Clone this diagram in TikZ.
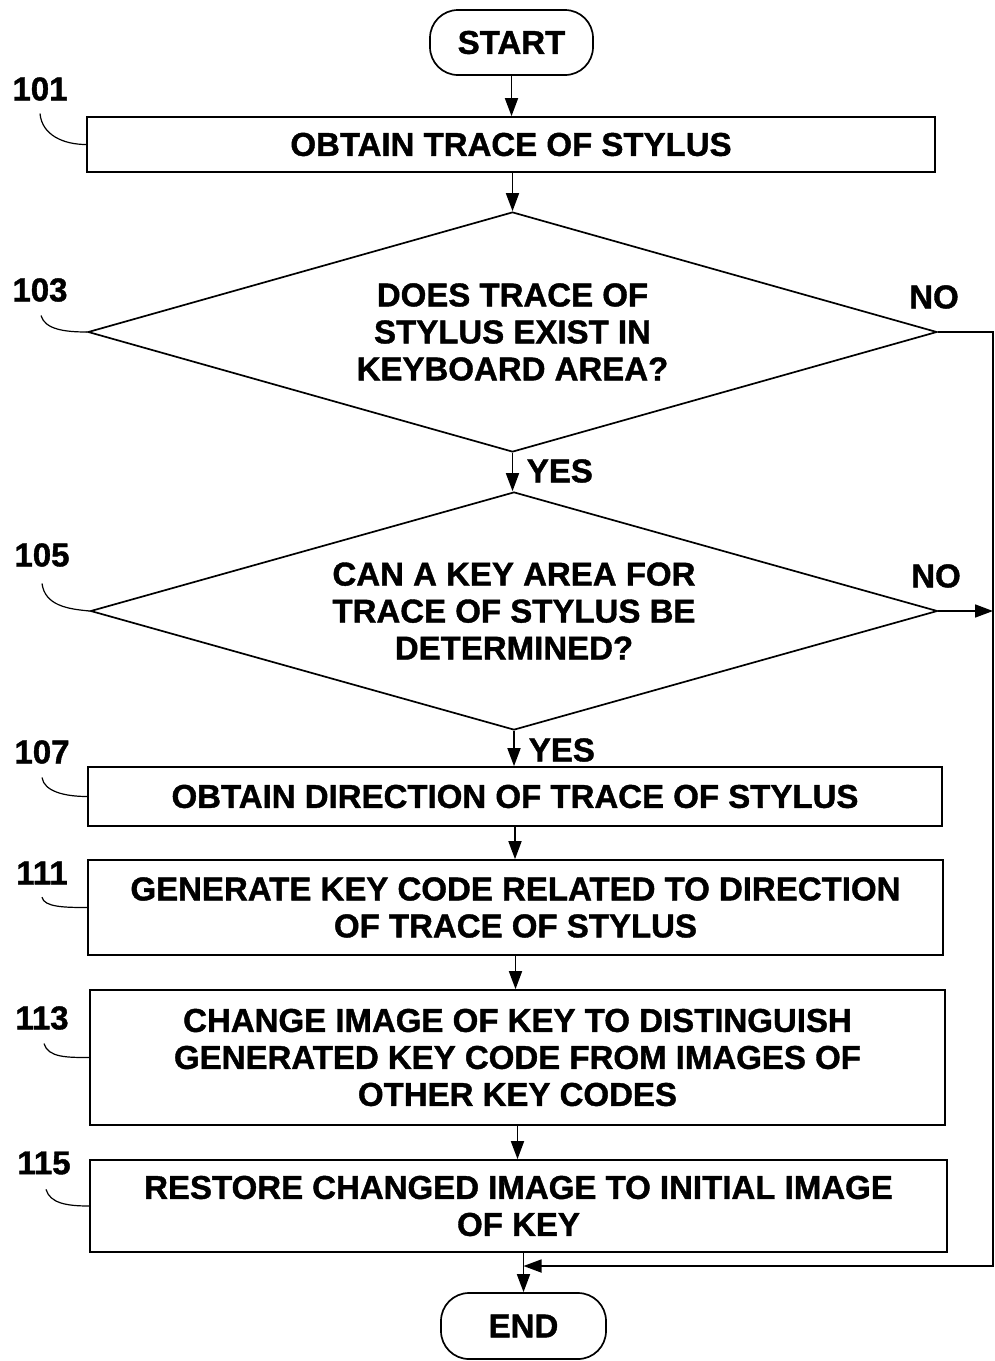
\documentclass[tikz,border=0pt]{standalone}
\usepackage{fontspec}
\setmainfont{Liberation Sans}[BoldFeatures={FakeBold=1.2}]
\usetikzlibrary{arrows.meta,shapes.geometric}
\begin{document}
\begin{tikzpicture}[x=1pt,y=-1pt, line width=1.7pt,
  txt/.style={font=\fontsize{33}{37}\selectfont\bfseries},
  box/.style={draw, rectangle, inner sep=0pt, txt, align=center},
  term/.style={draw, rounded corners=28pt, inner sep=0pt, txt},
  dec/.style={draw, diamond, aspect=3.54, inner sep=0pt, txt, align=center},
  arr/.style={-{Triangle[length=18pt,width=13pt]}},
  num/.style={txt, inner sep=0pt},
  lead/.style={line width=1.2pt}]
\useasboundingbox (0,0) rectangle (995,1361);

% main nodes
\node[term, minimum width=163pt, minimum height=65pt] (start) at (511.5,42.5) {START};
\node[box, minimum width=848pt, minimum height=55pt] (b101) at (511,144.5) {OBTAIN TRACE OF STYLUS};
\node[dec, minimum width=849pt, minimum height=240pt] (d103) at (512.5,332) {DOES TRACE OF\\STYLUS EXIST IN\\KEYBOARD AREA?};
\node[dec, minimum width=847pt, minimum height=238pt] (d105) at (514,611) {CAN A KEY AREA FOR\\TRACE OF STYLUS BE\\DETERMINED?};
\node[box, minimum width=854pt, minimum height=59pt] (b107) at (515,796.5) {OBTAIN DIRECTION OF TRACE OF STYLUS};
\node[box, minimum width=855pt, minimum height=95pt] (b111) at (515.5,907.5) {GENERATE KEY CODE RELATED TO DIRECTION\\OF TRACE OF STYLUS};
\node[box, minimum width=855pt, minimum height=135pt] (b113) at (517.5,1057.5) {CHANGE IMAGE OF KEY TO DISTINGUISH\\GENERATED KEY CODE FROM IMAGES OF\\OTHER KEY CODES};
\node[box, minimum width=857pt, minimum height=92pt] (b115) at (518.5,1206) {RESTORE CHANGED IMAGE TO INITIAL IMAGE\\OF KEY};
\node[term, minimum width=165pt, minimum height=66pt] (end) at (523.5,1326) {END};

% branch labels
\node[txt, anchor=west, inner sep=0pt] (yes1) at (526,471) {YES};
\node[txt, anchor=west, inner sep=0pt] (yes2) at (528,750) {YES};
\node[txt, inner sep=0pt] (no1) at (934,297) {NO};
\node[txt, inner sep=0pt] (no2) at (936,576) {NO};

% reference numerals
\node[num] (n101) at (40,89) {101};
\node[num] (n103) at (40,290) {103};
\node[num] (n105) at (42,555) {105};
\node[num] (n107) at (42,752) {107};
\node[num] (n111) at (42,873) {111};
\node[num] (n113) at (42,1018) {113};
\node[num] (n115) at (44,1163) {115};

% leaders
\draw[lead] (n101.south) ++(0,12) .. controls +(2,22) and +(-22,0) .. (b101.west);
\draw[lead] (n103.south) ++(1,13) .. controls +(4,14) and +(-22,0) .. (d103.west);
\draw[lead] (n105.south) ++(0,16) .. controls +(3,22) and +(-22,-2) .. (d105.west);
\draw[lead] (n107.south) ++(0,13) .. controls +(2,14) and +(-22,0) .. (b107.west);
\draw[lead] (n111.south) ++(0,12) .. controls +(2,10) and +(-22,0) .. (b111.west);
\draw[lead] (n113.south) ++(2,13) .. controls +(4,14) and +(-22,0) .. (b113.west);
\draw[lead] (n115.south) ++(2,14) .. controls +(4,14) and +(-22,0) .. (b115.west);

% main flow
\draw[arr] (start.south) -- (start.south |- b101.north);
\draw[arr] (d103.north |- b101.south) -- (d103.north);
\draw[arr] (d103.south) -- (d103.south |- d105.north);
\draw[arr] (d105.south) -- (d105.south |- b107.north);
\draw[arr] (b107.south) -- (b107.south |- b111.north);
\draw[arr] (b111.south) -- (b111.south |- b113.north);
\draw[arr] (b113.south) -- (b113.south |- b115.north);
\draw[arr] (end.north |- b115.south) -- (end.north);

% NO branches
\coordinate (rail) at (993,0);
\coordinate (join) at (523.5,1266);
\draw[arr] (d103.east) -- (d103.east -| rail) -- (rail |- join) -- (join);
\draw[arr] (d105.east) -- (d105.east -| rail);
\end{tikzpicture}
\end{document}
